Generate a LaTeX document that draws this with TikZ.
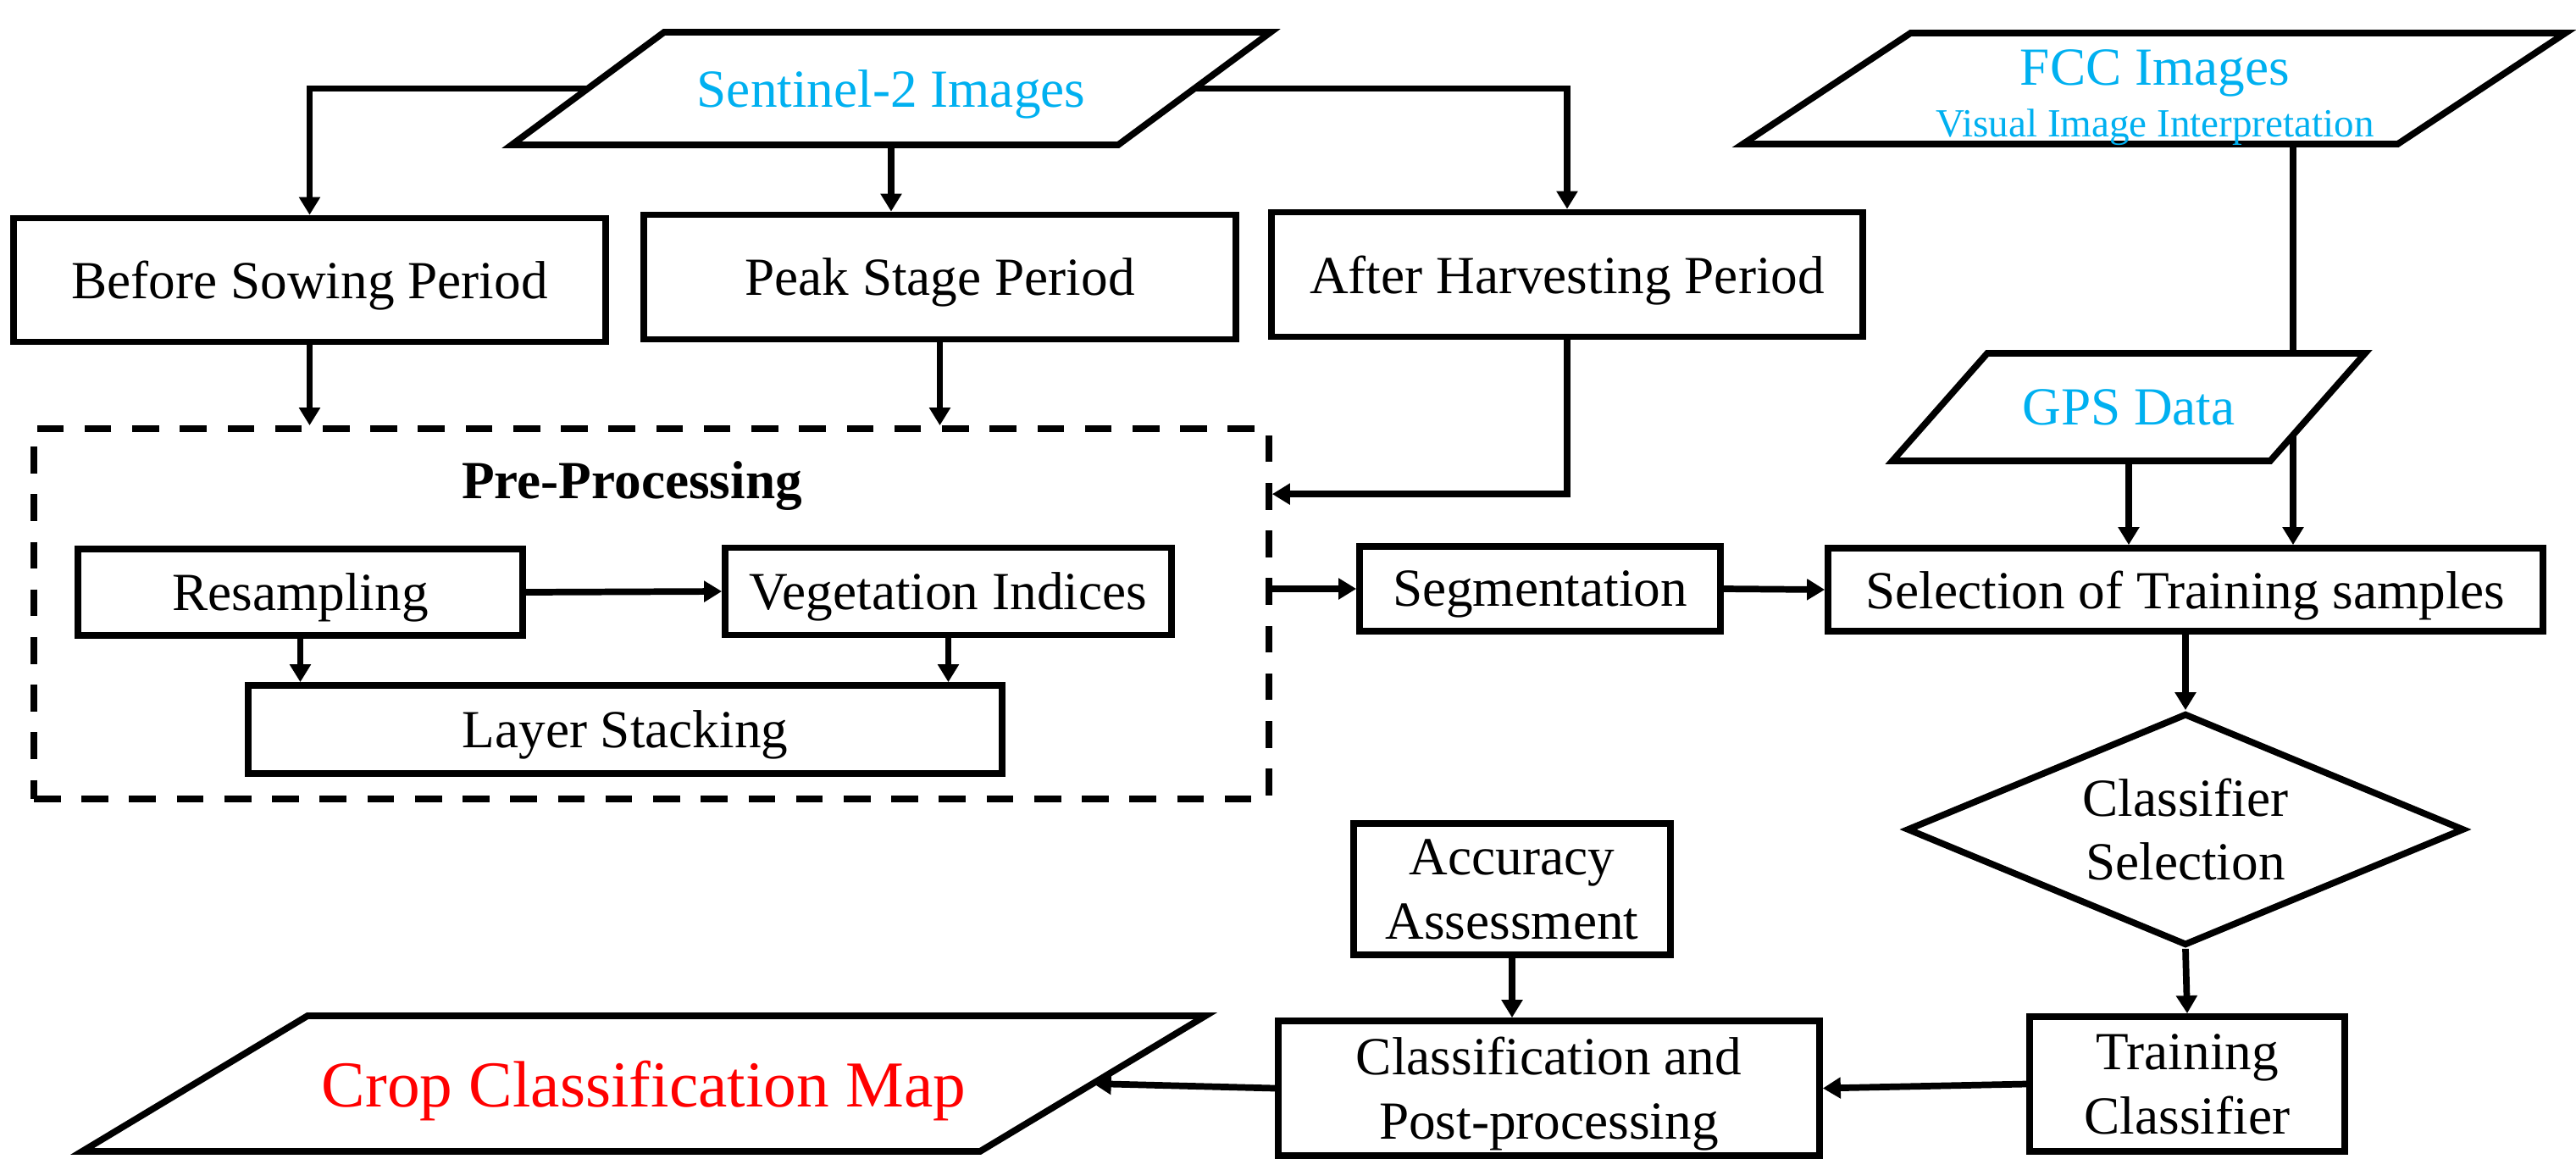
\documentclass[tikz,border=0pt]{standalone}
\usepackage{fontspec}
\setmainfont{Liberation Serif}
\usetikzlibrary{arrows.meta, shapes.geometric}
\definecolor{skyblue}{RGB}{0,176,240}

\begin{document}
\begin{tikzpicture}[
        every node/.style = {
            font=\fontsize{18}{21.6}\selectfont,
            inner sep=2pt
        },
        box/.style = {draw, rectangle, fill=white, line width=2.2pt, text depth=0pt},
        twoline/.style = {align=center},
        iobox/.style = {draw, fill=white, line width=2.2pt},
        io/.style = {text depth=0pt, text=skyblue},
        prebox/.style = {draw, line width=2.2pt, dash pattern=on 9pt off 7pt},
        decision/.style = {draw, diamond, aspect=2.4, fill=white, line width=2.2pt, align=center, inner sep=0pt},
        arrow/.style = {-{Triangle[length=0.21cm, width=0.24cm]}, line width=2.2pt}
    ]
    \useasboundingbox (0,0) rectangle (30.41,-13.67);

    % Inputs: Sentinel-2 and FCC
    \draw[iobox, shift={(10.52,-1.045)}, xslant=1.353] (-3.58,-0.665) rectangle (3.58,0.665);
    \node[io, minimum width=7.16cm, minimum height=1.33cm] (sent) at (10.52,-1.045) {Sentinel-2 Images};

    \draw[iobox, shift={(25.43,-1.045)}, xslant=1.511] (-3.865,-0.655) rectangle (3.865,0.655);
    \node[minimum width=7.73cm, minimum height=1.31cm] (fcc) at (25.43,-1.045) {};
    \node[io, anchor=base] (fcctitle) at (25.44,-1.00) {FCC Images};
    \node[io, anchor=base, font=\fontsize{13.4}{16}\selectfont] (fccsub) at (25.44,-1.61) {Visual Image Interpretation};

    % Periods
    \node[box, minimum width=6.99cm, minimum height=1.46cm] (before) at (3.655,-3.305) {Before Sowing Period};
    \node[box, minimum width=6.99cm, minimum height=1.47cm] (peak) at (11.095,-3.27) {Peak Stage Period};
    \node[box, minimum width=6.98cm, minimum height=1.47cm] (after) at (18.50,-3.24) {After Harvesting Period};

    % Pre-processing block
    \node[prebox, minimum width=14.58cm, minimum height=4.37cm] (pre) at (7.69,-7.245) {};
    \node[anchor=base, font=\fontsize{18}{21.6}\selectfont\bfseries] (pretitle) at (7.46,-5.88) {Pre-Processing};
    \node[box, minimum width=5.25cm, minimum height=1.02cm] (res) at (3.545,-6.99) {Resampling};
    \node[box, minimum width=5.27cm, minimum height=1.03cm] (veg) at (11.195,-6.98) {Vegetation Indices};
    \node[box, minimum width=8.90cm, minimum height=1.04cm] (lay) at (7.38,-8.61) {Layer Stacking};

    % Segmentation and training samples
    \node[box, minimum width=4.26cm, minimum height=1.00cm] (seg) at (18.18,-6.95) {Segmentation};
    \node[box, minimum width=8.44cm, minimum height=0.98cm] (sel) at (25.80,-6.96) {Selection of Training samples};

    % FCC line passes behind GPS Data
    \draw[arrow] ([xshift=1.64cm]fcc.south) -- ([xshift=1.64cm]fcc.south |- sel.north);
    \draw[iobox, shift={(25.13,-4.805)}, xslant=0.882] (-2.23,-0.635) rectangle (2.23,0.635);
    \node[io, minimum width=4.46cm, minimum height=1.27cm] (gps) at (25.13,-4.805) {GPS Data};

    % Classification
    \node[decision, minimum width=6.58cm, minimum height=2.74cm] (clf) at (25.80,-9.79) {Classifier\\Selection};
    \node[box, twoline, minimum width=3.72cm, minimum height=1.59cm] (train) at (25.82,-12.795) {Training\\Classifier};
    \node[box, twoline, minimum width=6.39cm, minimum height=1.59cm] (post) at (18.285,-12.845) {Classification and\\Post-processing};
    \node[box, twoline, minimum width=3.74cm, minimum height=1.55cm] (acc) at (17.85,-10.495) {Accuracy\\Assessment};

    \draw[iobox, shift={(7.60,-12.79)}, xslant=1.663] (-5.30,-0.80) rectangle (5.30,0.80);
    \node[io, text=red, font=\fontsize{22}{26.4}\selectfont, minimum width=10.6cm, minimum height=1.6cm] (crop) at (7.60,-12.79) {Crop Classification Map};

    % Connectors
    \draw[arrow] (sent.west) -| (before.north);
    \draw[arrow] (sent.south) -- (sent.south |- peak.north);
    \draw[arrow] (sent.east) -| (after.north);
    \draw[arrow] (before.south) -- (before.south |- pre.north);
    \draw[arrow] (peak.south) -- (peak.south |- pre.north);
    \draw[arrow] (after.south) |- ([yshift=-0.81cm]pre.north east);
    \draw[arrow] (res.east) -- (veg.west);
    \draw[arrow] (res.south) -- (res.south |- lay.north);
    \draw[arrow] (veg.south) -- (veg.south |- lay.north);
    \draw[arrow] (seg.west -| pre.east) -- (seg.west);
    \draw[arrow] (seg.east) -- (sel.west);
    \draw[arrow] (gps.south) -- (gps.south |- sel.north);
    \draw[arrow] (sel.south) -- (clf.north);
    \draw[arrow] (clf.south) -- (train.north);
    \draw[arrow] (acc.south) -- (acc.south |- post.north);
    \draw[arrow] (train.west) -- (post.east);
    \draw[arrow] (post.west) -- (crop.east);

\end{tikzpicture}
\end{document}
